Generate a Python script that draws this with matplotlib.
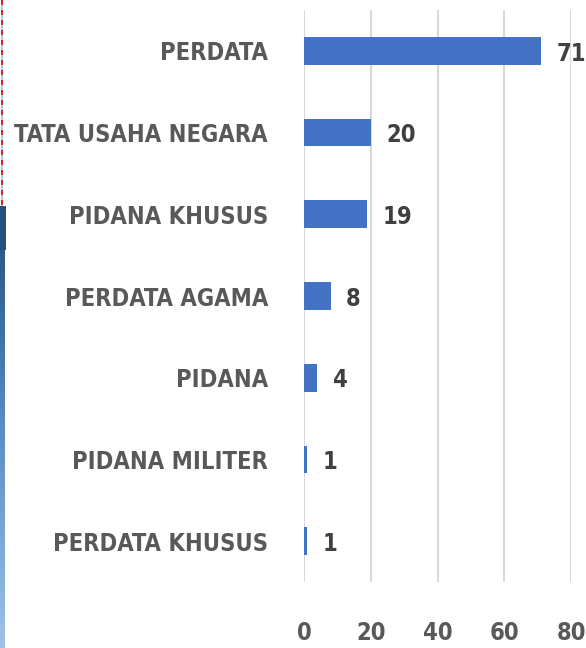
import numpy as np
import matplotlib
matplotlib.use("Agg")
import matplotlib.pyplot as plt
from matplotlib.lines import Line2D
from matplotlib.colors import LinearSegmentedColormap

categories = ["PERDATA", "TATA USAHA NEGARA", "PIDANA KHUSUS", "PERDATA AGAMA",
              "PIDANA", "PIDANA MILITER", "PERDATA KHUSUS"]
values = [71, 20, 19, 8, 4, 1, 1]
xticks = [0, 20, 40, 60, 80]

FONT = ["DejaVu Sans"]
STRETCH = "condensed"
W, H = 586, 648
fig = plt.figure(figsize=(W / 100, H / 100), dpi=100)
fig.patch.set_facecolor("white")

ax = fig.add_axes([304 / W, 1 - 582 / H, (571 - 304) / W, (582 - 10) / H])
y = np.arange(len(categories))
ax.barh(y, values, height=0.34, color="#4472C4", zorder=3)
ax.set_ylim(len(categories) - 0.5, -0.5)
ax.set_xlim(0, 80)
ax.set_xticks(xticks)
ax.set_xticklabels([str(t) for t in xticks], family=FONT, fontweight="bold",
                   fontstretch=STRETCH, fontsize=17, color="#595959")
ax.set_yticks(y)
ax.set_yticklabels(categories, family=FONT, fontweight="bold", fontsize=17,
                   fontstretch=STRETCH, color="#595959")
ax.tick_params(axis="y", length=0, pad=26)
ax.tick_params(axis="x", length=0, pad=28)
ax.grid(axis="x", color="#D9D9D9", linewidth=1.5, zorder=0)
for s in ax.spines.values():
    s.set_visible(False)

for yi, v in zip(y, values):
    ax.annotate(str(v), (v, yi), xytext=(11, -2), textcoords="offset points",
                ha="left", va="center", family=FONT, fontweight="bold",
                fontstretch=STRETCH, fontsize=17, color="#404040",
                annotation_clip=False)

# left-edge decorations
fig.add_artist(Line2D([1.5 / W, 1.5 / W], [1, 1 - 205 / H], color="#9DC3E6",
                      linewidth=1.2, transform=fig.transFigure))
fig.add_artist(Line2D([1.5 / W, 1.5 / W], [1, 1 - 205 / H], color="#E00000",
                      linewidth=1.2, linestyle=(0, (3, 3)), transform=fig.transFigure))
gax = fig.add_axes([0, 0, 5 / W, (H - 206) / H])
grad = np.linspace(0, 1, 256).reshape(-1, 1)
cmap = LinearSegmentedColormap.from_list("g", ["#1F4E79", "#5B8CC4", "#9DC3E6"])
gax.imshow(grad, aspect="auto", cmap=cmap)
gax.axis("off")
top = fig.add_axes([0, 1 - 250 / H, 6 / W, 44 / H])
top.set_facecolor("#23507F")
top.set_xticks([]); top.set_yticks([])
for s in top.spines.values():
    s.set_visible(False)

fig.savefig("out.png", dpi=100)
